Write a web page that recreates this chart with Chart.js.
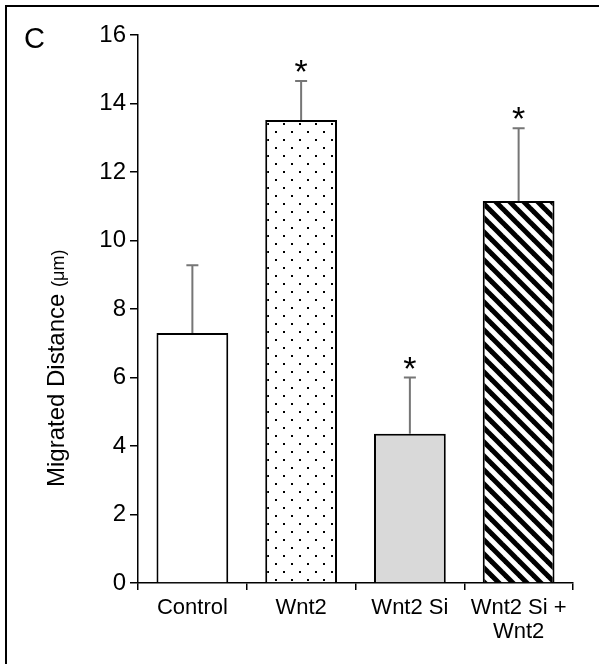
<!DOCTYPE html>
<html>
<head>
<meta charset="utf-8">
<title>Migrated Distance</title>
<script src="https://cdn.jsdelivr.net/npm/chart.js@4/dist/chart.umd.min.js"></script>
<style>
  html, body { margin: 0; padding: 0; background: #fff; }
  #wrap { position: relative; width: 599px; height: 664px; }
</style>
</head>
<body>
<div id="wrap"><canvas id="chart" width="599" height="664"></canvas></div>
<script>
// Migration assay: mean distance per condition, upper SD whiskers, * = significant
const categories = ['Control', 'Wnt2', 'Wnt2 Si', ['Wnt2 Si +', 'Wnt2']];
const means = [7.3, 13.52, 4.36, 11.15];
const errors = [1.98, 1.14, 1.64, 2.13];
const significant = [false, true, true, true];
const yMin = 0;
const yMax = 16;
const yStep = 2;

const FONT = '"Liberation Sans", Arial, Helvetica, sans-serif';

// Fill patterns for the bars
function dotPattern() {
    const c = document.createElement('canvas');
    c.width = 16; c.height = 16;
    const g = c.getContext('2d');
    g.fillStyle = '#fff';
    g.fillRect(0, 0, 16, 16);
    g.fillStyle = '#000';
    g.fillRect(3, 3, 2, 2);
    g.fillRect(11, 11, 2, 2);
    return g.createPattern(c, 'repeat');
}

function hatchPattern() {
    const s = 14;
    const c = document.createElement('canvas');
    c.width = s; c.height = s;
    const g = c.getContext('2d');
    g.fillStyle = '#fff';
    g.fillRect(0, 0, s, s);
    g.strokeStyle = '#000';
    g.lineWidth = 5;
    [-s, 0, s].forEach(off => {
        g.beginPath();
        g.moveTo(-2, off - 2);
        g.lineTo(s + 2, s + off + 2);
        g.stroke();
    });
    return g.createPattern(c, 'repeat');
}

const fills = ['#ffffff', dotPattern(), '#d9d9d9', hatchPattern()];

// White page, frame and panel letter
const framePlugin = {
    id: 'frame',
    beforeDraw(chart) {
        const ctx = chart.ctx;
        ctx.save();
        ctx.fillStyle = '#fff';
        ctx.fillRect(0, 0, chart.width, chart.height);
        ctx.restore();
    },
    afterDraw(chart) {
        const ctx = chart.ctx;
        ctx.save();
        ctx.strokeStyle = '#000';
        ctx.lineWidth = 2;
        ctx.strokeRect(6, 6, chart.width, chart.height);
        ctx.fillStyle = '#000';
        ctx.font = '29px ' + FONT;
        ctx.textBaseline = 'alphabetic';
        ctx.fillText('C', 24, 48);
        ctx.restore();
    }
};

// Y title with the unit in a smaller size
const yTitlePlugin = {
    id: 'yTitle',
    afterDraw(chart) {
        const ctx = chart.ctx;
        const main = 'Migrated Distance ';
        const unit = '(\u03bcm)';
        ctx.save();
        ctx.fillStyle = '#000';
        ctx.translate(64, 487);
        ctx.rotate(-Math.PI / 2);
        ctx.textBaseline = 'alphabetic';
        ctx.font = '24px ' + FONT;
        ctx.fillText(main, 0, 0);
        const w = ctx.measureText(main).width;
        ctx.font = '18px ' + FONT;
        ctx.fillText(unit, w, 0);
        ctx.restore();
    }
};

// Upper error whiskers and significance stars
const errorBarPlugin = {
    id: 'errorBars',
    afterDatasetsDraw(chart) {
        const ctx = chart.ctx;
        const xs = chart.scales.x;
        const ys = chart.scales.y;
        ctx.save();
        ctx.strokeStyle = '#767676';
        ctx.lineWidth = 2;
        means.forEach((m, i) => {
            const x = xs.getPixelForValue(i);
            const y0 = ys.getPixelForValue(m);
            const y1 = ys.getPixelForValue(m + errors[i]);
            ctx.beginPath();
            ctx.moveTo(x, y0);
            ctx.lineTo(x, y1);
            ctx.moveTo(x - 6, y1);
            ctx.lineTo(x + 6, y1);
            ctx.stroke();
            if (significant[i]) {
                ctx.fillStyle = '#000';
                ctx.font = '34px ' + FONT;
                ctx.textAlign = 'center';
                ctx.textBaseline = 'alphabetic';
                ctx.fillText('*', x, y1 + 2);
            }
        });
        ctx.restore();
    }
};

new Chart(document.getElementById('chart'), {
    type: 'bar',
    data: {
        labels: categories,
        datasets: [{
            data: means,
            backgroundColor: fills,
            borderColor: '#000',
            borderWidth: 2,
            borderSkipped: 'start',
            barPercentage: 0.66,
            categoryPercentage: 1.0
        }]
    },
    options: {
        responsive: false,
        animation: false,
        devicePixelRatio: 1,
        layout: {
            padding: { left: 0, top: 35, right: 26, bottom: 0 }
        },
        plugins: {
            legend: { display: false },
            tooltip: { enabled: false }
        },
        scales: {
            x: {
                grid: {
                    offset: true,
                    drawOnChartArea: false,
                    drawTicks: true,
                    tickLength: 7,
                    color: '#000',
                    lineWidth: 1.5
                },
                border: { display: true, color: '#000', width: 1.5 },
                ticks: {
                    color: '#000',
                    padding: 6,
                    font: { family: FONT, size: 22, lineHeight: 1.1 },
                    maxRotation: 0,
                    autoSkip: false
                },
                afterFit(scale) { scale.height = 81; }
            },
            y: {
                min: yMin,
                max: yMax,
                grid: {
                    drawOnChartArea: false,
                    drawTicks: true,
                    tickLength: 8,
                    color: '#000',
                    lineWidth: 1.5
                },
                border: { display: true, color: '#000', width: 1.5 },
                ticks: {
                    stepSize: yStep,
                    color: '#000',
                    padding: 4,
                    font: { family: FONT, size: 24 }
                },
                afterFit(scale) { scale.width = 138; }
            }
        }
    },
    plugins: [framePlugin, yTitlePlugin, errorBarPlugin]
});
</script>
</body>
</html>
